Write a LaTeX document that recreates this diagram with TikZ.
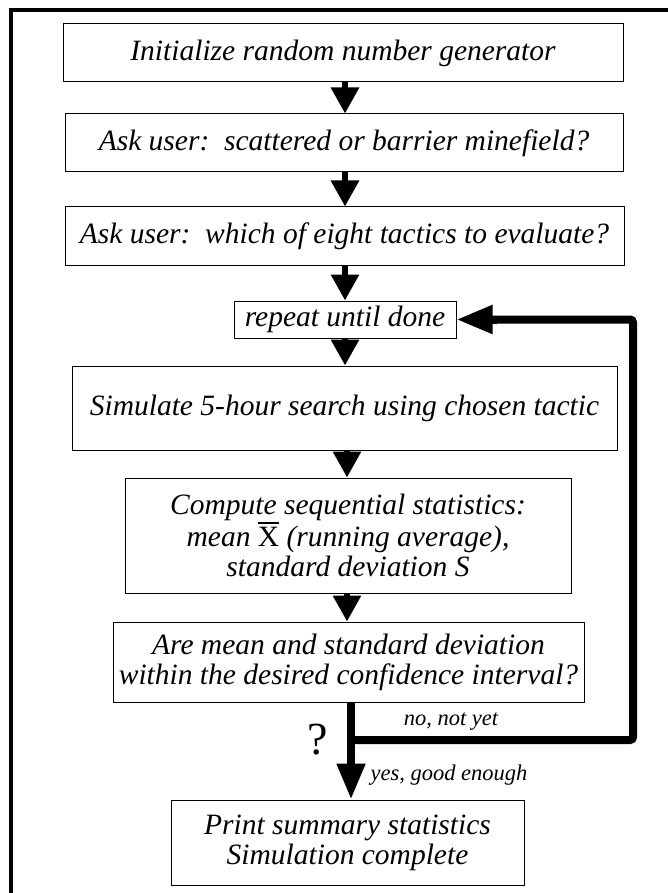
\documentclass[tikz,border=0pt]{standalone}
\usepackage{fontspec}
\setmainfont{Liberation Serif}
\usetikzlibrary{arrows.meta,calc}
\newcommand\xbarmark{\setbox0\hbox{\upshape X}\rlap{\raisebox{0.78em}{\rule{\wd0}{0.08em}}}\box0}
\tikzset{
  stepbox/.style={draw=black,line width=1pt,inner sep=0pt,align=center,
    font=\fontsize{29.5}{30}\selectfont\itshape},
  flowarrow/.style={line width=6pt,-{Triangle[width=27pt,length=26pt]}},
  looparrow/.style={line width=8pt,-{Triangle[width=27pt,length=36pt]}},
  loopline/.style={line width=8pt,rounded corners=3pt},
  lbl/.style={font=\fontsize{22.5}{24}\selectfont\itshape,inner sep=0pt},
  frameline/.style={line width=4pt}
}
\begin{document}
\begin{tikzpicture}[x=1pt,y=-1pt]
\useasboundingbox (0,0) rectangle (667,893);
% frame (cut at picture edge)
\draw[frameline] (680,10) -- (11,10) -- (11,900);

\node[stepbox,minimum width=560pt,minimum height=58pt] (b1) at (343,53) {Initialize random number generator};
\node[stepbox,minimum width=558pt,minimum height=58pt] (b2) at (344,143) {Ask user:\ \ scattered or barrier minefield?};
\node[stepbox,minimum width=559pt,minimum height=58pt] (b3) at (344.5,236) {Ask user:\ \ which of eight tactics to evaluate?};
\node[stepbox,minimum width=222pt,minimum height=37pt] (b4) at (345,319.5) {repeat until done};
\node[stepbox,minimum width=545pt,minimum height=84pt] (b5) at (344.5,408) {Simulate 5-hour search using chosen tactic};
\node[stepbox,minimum width=446pt,minimum height=115pt] (b6) at (348,535.5) {Compute sequential statistics:\\ mean \xbarmark{} (running average),\\ standard deviation S};
\node[stepbox,minimum width=471pt,minimum height=80pt] (b7) at (348.5,662) {Are mean and standard deviation\\ within the desired confidence interval?};
\node[stepbox,minimum width=353pt,minimum height=85pt] (b8) at (347.5,842.5) {Print summary statistics\\ Simulation complete};

\coordinate (ax) at (345,0);
\draw[flowarrow] (b1.south -| ax) -- (b2.north -| ax);
\draw[flowarrow] (b2.south -| ax) -- (b3.north -| ax);
\draw[flowarrow] (b3.south -| ax) -- (b4.north -| ax);
\draw[flowarrow] (b4.south -| ax) -- (b5.north -| ax);
\coordinate (ax2) at (347,0);
\draw[flowarrow] (b5.south -| ax2) -- (b6.north -| ax2);
\draw[flowarrow] (b6.south -| ax2) -- (b7.north -| ax2);

\coordinate (split) at (351,740);
\coordinate (rc) at (633,740);
\draw[looparrow] (b7.south -| split) -- (b8.north -| split);
\draw[loopline] (split) -- (rc) -- (rc |- b4.east) -- ($(b4.east)+(30,0)$);
\draw[looparrow] ($(b4.east)+(40,0)$) -- (b4.east);

\node[lbl] (no) at (451,722) {no, not yet};
\node[lbl] (yes) at (449,775) {yes, good enough};
\node[inner sep=0pt,font=\fontsize{46}{46}\selectfont] (q) at (318,740) {?};
\end{tikzpicture}
\end{document}
